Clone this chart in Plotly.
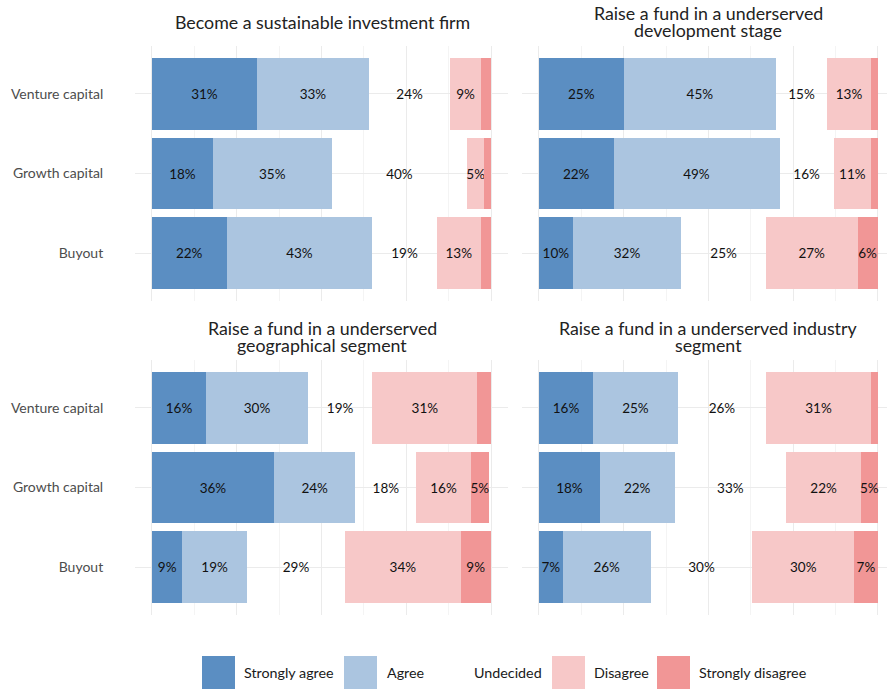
import plotly.graph_objects as go

W, H = 887, 689

categories = ["Venture capital", "Growth capital", "Buyout"]
panel_titles = [
    ["Become a sustainable investment firm"],
    ["Raise a fund in a underserved", "development stage"],
    ["Raise a fund in a underserved", "geographical segment"],
    ["Raise a fund in a underserved industry", "segment"],
]
levels = ["Strongly agree", "Agree", "Undecided", "Disagree", "Strongly disagree"]

# values per panel (rows) and category (columns), in percent
strongly_agree = [[31, 18, 22], [25, 22, 10], [16, 36, 9], [16, 18, 7]]
agree = [[33, 35, 43], [45, 49, 32], [30, 24, 19], [25, 22, 26]]
undecided = [[24, 40, 19], [15, 16, 25], [19, 18, 29], [26, 33, 30]]
disagree = [[9, 5, 13], [13, 11, 27], [31, 16, 34], [31, 22, 30]]
strongly_disagree = [[3, 2, 3], [2, 2, 6], [4, 5.4, 9], [2, 5, 7]]

series = [strongly_agree, agree, undecided, disagree, strongly_disagree]
colors = ["#5b8ec2", "#abc5e0", "rgba(255,255,255,0)", "#f7c8c8", "#f19696"]
legend_colors = ["#5b8ec2", "#abc5e0", "rgba(255,255,255,0)", "#f7c8c8", "#f19696"]

FONT = "Lato"

def px_x(p):
    return p / W

def px_y(p):
    return 1 - p / H

# panel geometry (pixels)
x_dom_px = [(135, 508), (522, 887)]
x_ranges = [[-5, 105], [-5, 102.7]]
y_dom_px = [(46, 301), (360, 615)]

fig = go.Figure()

for i in range(4):
    col = i % 2
    row = i // 2
    sfx = "" if i == 0 else str(i + 1)
    for j, lev in enumerate(levels):
        vals = series[j][i]
        fig.add_trace(go.Bar(
            x=vals, y=categories, orientation="h",
            xaxis="x" + sfx, yaxis="y" + sfx,
            name=lev, showlegend=False,
            marker=dict(color=colors[j], line=dict(width=0)),
            width=0.9,
            text=[f"{round(v)}%" if v >= 5 else "" for v in vals],
            textposition="inside", insidetextanchor="middle",
            textangle=0, constraintext="none",
            textfont=dict(family=FONT, size=13.5, color="#111111"),
            cliponaxis=False,
            hoverinfo="skip",
        ))
    xd = x_dom_px[col]
    yd = y_dom_px[row]
    fig.layout["xaxis" + sfx] = dict(
        domain=[px_x(xd[0]), px_x(xd[1])], range=x_ranges[col],
        anchor="y" + sfx, tickvals=[0, 25, 50, 75, 100], showticklabels=False,
        showgrid=True, gridcolor="#ebebeb", gridwidth=1, zeroline=False,
        showline=False, ticks="", automargin=False,
        minor=dict(tickvals=[12.5, 37.5, 62.5, 87.5], showgrid=True,
                   gridcolor="#f4f4f4", gridwidth=1),
    )
    fig.layout["yaxis" + sfx] = dict(
        domain=[px_y(yd[1]), px_y(yd[0])], anchor="x" + sfx,
        type="category", categoryorder="array", categoryarray=categories,
        range=[2.6, -0.6], showgrid=True, gridcolor="#ebebeb", gridwidth=1,
        zeroline=False, showline=False, automargin=False,
        showticklabels=(col == 0),
        ticks="outside", ticklen=28, tickcolor="rgba(0,0,0,0)",
        tickfont=dict(family=FONT, size=14, color="#4d4d4d"),
    )

annotations = []
# panel titles
title_centers_x = [322, 708]
for i, lines in enumerate(panel_titles):
    col = i % 2
    row = i // 2
    base = [13.5, 328][row]
    ys = [base + 8.5] if len(lines) == 1 else [base, base + 16.5]
    for line, yy in zip(lines, ys):
        annotations.append(dict(
            text=line, x=px_x(title_centers_x[col]), y=px_y(yy),
            xref="paper", yref="paper", xanchor="center", yanchor="middle",
            showarrow=False, font=dict(family=FONT, size=17.8, color="#222222"),
        ))

# legend (manual)
shapes = []
box_x = [202, 344, 432, 552, 657]
text_x = [242, 385, 472, 592, 697]
for j, lev in enumerate(levels):
    shapes.append(dict(
        type="rect", xref="paper", yref="paper",
        x0=px_x(box_x[j]), x1=px_x(box_x[j] + 33),
        y0=px_y(689), y1=px_y(656),
        fillcolor=legend_colors[j], line=dict(width=0),
    ))
    annotations.append(dict(
        text=lev, x=px_x(text_x[j]), y=px_y(672),
        xref="paper", yref="paper", xanchor="left", yanchor="middle",
        showarrow=False, font=dict(family=FONT, size=14.3, color="#1a1a1a"),
    ))

fig.update_layout(
    width=W, height=H, margin=dict(l=0, r=0, t=0, b=0),
    paper_bgcolor="white", plot_bgcolor="white",
    barmode="stack", bargap=0.1,
    annotations=annotations, shapes=shapes,
    font=dict(family=FONT),
    showlegend=False,
)

fig.write_html(
    "out.html",
    config={"displayModeBar": False},
    post_script="document.body.style.margin='0';document.body.style.padding='0';",
)
